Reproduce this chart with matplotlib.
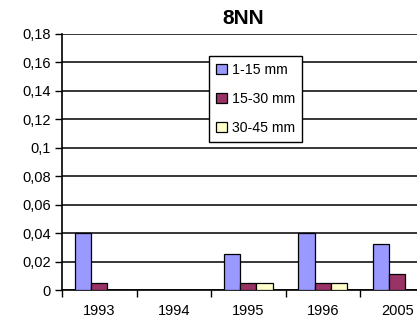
import matplotlib.pyplot as plt
import numpy as np
from matplotlib.ticker import FuncFormatter

plt.rcParams['font.family'] = ['Liberation Sans', 'DejaVu Sans']

years = ['1993', '1994', '1995', '1996', '2005']
size_classes = ['1-15 mm', '15-30 mm', '30-45 mm']
mm_1_15 = [0.04, 0.0, 0.025, 0.04, 0.032]
mm_15_30 = [0.005, 0.0, 0.005, 0.005, 0.011]
mm_30_45 = [0.0, 0.0, 0.005, 0.005, 0.0]
colors = ['#9999FF', '#993366', '#FFFFCC']

fig = plt.figure(figsize=(4.17, 3.25), dpi=100)
ax = fig.add_axes([62 / 417, 35 / 325, 372.5 / 417, 256.3 / 325])

x = np.arange(len(years))
w = 0.22
for i, (vals, lab, col) in enumerate(zip([mm_1_15, mm_15_30, mm_30_45], size_classes, colors)):
    ax.bar(x + (i - 1) * w, vals, w, color=col, edgecolor='black', linewidth=0.9,
           label=lab, zorder=3)

ax.set_xlim(-0.5, len(years) - 0.5)
ax.set_ylim(0, 0.18)
ax.set_yticks(np.arange(0, 0.181, 0.02))
ax.yaxis.set_major_formatter(FuncFormatter(
    lambda v, p: '0' if abs(v) < 1e-9 else ('%g' % round(v, 2)).replace('.', ',')))
ax.yaxis.grid(True, color='black', linewidth=1.1)
ax.set_axisbelow(True)

# category labels centred, ticks between categories
ax.set_xticks(np.arange(-0.5, len(years), 1.0))
ax.set_xticklabels([])
ax.set_xticks(x, minor=True)
ax.set_xticklabels(years, minor=True)
ax.tick_params(axis='x', which='minor', length=0, pad=10, labelsize=10.5)
ax.tick_params(axis='x', which='major', length=5, width=1, direction='out')
ax.tick_params(axis='y', length=5, width=1, direction='out', labelsize=10.5, pad=3)

for s in ['top', 'right']:
    ax.spines[s].set_visible(False)
ax.spines['left'].set_linewidth(1.2)
ax.spines['bottom'].set_linewidth(1.2)

fig.text(243 / 417, 1 - 19 / 325, '8NN', fontsize=15, fontweight='bold',
         ha='center', va='center')

leg = ax.legend(loc='upper left', bbox_to_anchor=((209 - 62) / 372.5, (290 - 56) / 256.3),
                fontsize=10.2, frameon=True, fancybox=False, framealpha=1,
                edgecolor='black', handlelength=0.75, handleheight=0.75,
                handletextpad=0.35, labelspacing=1.05, borderpad=0.5, borderaxespad=0)
leg.get_frame().set_linewidth(1.0)

fig.savefig('out.png', dpi=100)
